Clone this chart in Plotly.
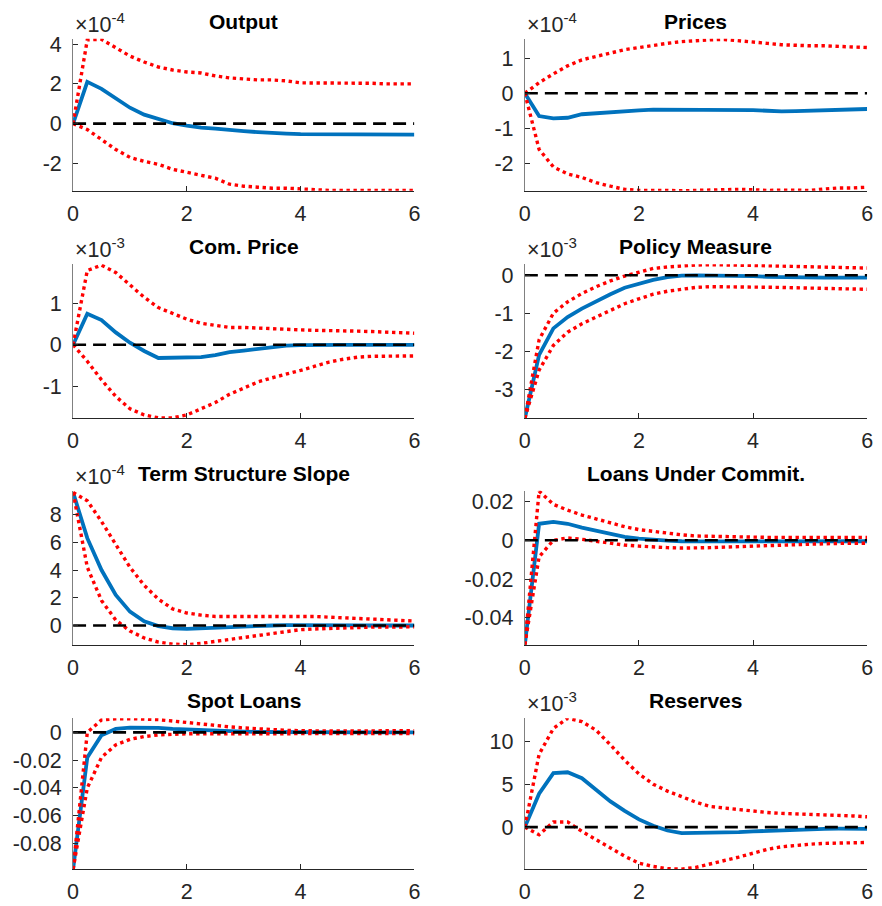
import plotly.graph_objects as go

# Impulse responses: median (solid) with lower/upper bands (dotted), horizon in years
horizon = [i * 0.25 for i in range(25)]

panel_titles = ["Output", "Prices", "Com. Price", "Policy Measure",
                "Term Structure Slope", "Loans Under Commit.", "Spot Loans", "Reserves"]

# Values are given in the units shown on each panel's axis (see panel_exponent)
output_med = [0, 2.1, 1.75, 1.25, 0.8, 0.45, 0.22, 0.02, -0.1, -0.2, -0.25, -0.33, -0.38,
              -0.43, -0.48, -0.5, -0.53, -0.53, -0.55, -0.54, -0.53, -0.52, -0.52, -0.52, -0.55]
output_lo = [0, -0.3, -0.8, -1.3, -1.7, -1.9, -2.05, -2.3, -2.45, -2.6, -2.75, -3.05, -3.15,
             -3.2, -3.25, -3.25, -3.3, -3.35, -3.36, -3.36, -3.37, -3.37, -3.37, -3.37, -3.37]
output_hi = [0, 4.22, 4.24, 3.8, 3.4, 3.1, 2.85, 2.7, 2.6, 2.55, 2.4, 2.3, 2.25,
             2.2, 2.2, 2.15, 2.05, 2.05, 2.05, 2.05, 2.05, 2.03, 2.0, 2.0, 2.0]

prices_med = [0, -0.65, -0.72, -0.7, -0.6, -0.57, -0.53, -0.5, -0.49, -0.47, -0.47, -0.47, -0.48,
              -0.48, -0.48, -0.49, -0.48, -0.5, -0.52, -0.51, -0.5, -0.49, -0.48, -0.47, -0.45]
prices_lo = [0, -1.6, -2.1, -2.3, -2.4, -2.55, -2.65, -2.74, -2.77, -2.76, -2.77, -2.78, -2.77,
             -2.75, -2.75, -2.74, -2.75, -2.77, -2.76, -2.77, -2.77, -2.73, -2.7, -2.7, -2.68]
prices_hi = [0, 0.3, 0.55, 0.78, 0.95, 1.05, 1.15, 1.24, 1.3, 1.37, 1.42, 1.47, 1.5,
             1.52, 1.53, 1.5, 1.45, 1.42, 1.38, 1.36, 1.35, 1.35, 1.33, 1.32, 1.3]

comprice_med = [0, 0.75, 0.6, 0.3, 0.05, -0.15, -0.32, -0.32, -0.32, -0.3, -0.25, -0.18, -0.14,
                -0.1, -0.05, -0.02, -0.01, 0, 0, 0, 0, 0, 0, 0, 0]
comprice_lo = [0, -0.4, -0.85, -1.25, -1.55, -1.7, -1.77, -1.77, -1.7, -1.55, -1.4, -1.2, -1.05,
               -0.9, -0.8, -0.72, -0.62, -0.52, -0.42, -0.35, -0.3, -0.28, -0.28, -0.27, -0.27]
comprice_hi = [0, 1.8, 1.93, 1.75, 1.45, 1.15, 0.9, 0.75, 0.62, 0.52, 0.46, 0.42, 0.42,
               0.4, 0.38, 0.37, 0.36, 0.35, 0.35, 0.34, 0.33, 0.32, 0.31, 0.3, 0.28]

policy_med = [-3.77, -2.1, -1.4, -1.1, -0.88, -0.68, -0.5, -0.33, -0.22, -0.12, -0.05, -0.01, 0.0,
              0.0, -0.01, -0.02, -0.02, -0.04, -0.05, -0.06, -0.06, -0.06, -0.06, -0.06, -0.06]
policy_lo = [-3.77, -2.5, -1.85, -1.5, -1.28, -1.1, -0.92, -0.75, -0.62, -0.5, -0.42, -0.36, -0.32,
             -0.3, -0.3, -0.3, -0.3, -0.31, -0.32, -0.33, -0.34, -0.35, -0.36, -0.36, -0.37]
policy_hi = [-3.77, -1.7, -1.0, -0.7, -0.48, -0.3, -0.15, -0.02, 0.08, 0.18, 0.22, 0.25, 0.27,
             0.28, 0.28, 0.27, 0.26, 0.25, 0.24, 0.23, 0.22, 0.21, 0.2, 0.2, 0.19]

slope_med = [9.6, 6.3, 4.0, 2.2, 1.0, 0.3, -0.05, -0.2, -0.25, -0.2, -0.15, -0.1, -0.05,
             -0.02, 0.0, 0.02, 0.03, 0.03, 0.03, 0.02, 0.01, 0.0, 0.0, 0.0, 0.0]
slope_lo = [9.6, 4.2, 1.8, 0.4, -0.4, -0.9, -1.2, -1.35, -1.38, -1.3, -1.15, -1.0, -0.85,
            -0.7, -0.55, -0.42, -0.3, -0.25, -0.2, -0.18, -0.15, -0.12, -0.1, -0.1, -0.1]
slope_hi = [9.6, 9.0, 7.5, 5.8, 4.2, 2.9, 1.9, 1.2, 0.9, 0.75, 0.65, 0.65, 0.65,
            0.65, 0.65, 0.68, 0.68, 0.65, 0.6, 0.55, 0.5, 0.45, 0.4, 0.35, 0.32]

commit_med = [-0.0538, 0.0085, 0.0095, 0.0085, 0.0065, 0.0048, 0.0032, 0.0018, 0.0008, 0.0002,
              -0.0002, -0.0005, -0.0006, -0.0006, -0.0006, -0.0006, -0.0006, -0.0006, -0.0006,
              -0.0006, -0.0005, -0.0005, -0.0005, -0.0005, -0.0005]
commit_lo = [-0.0538, -0.0085, 0.0, 0.0012, 0.0005, -0.0005, -0.0015, -0.0025, -0.003, -0.0035,
             -0.0038, -0.004, -0.004, -0.0038, -0.0035, -0.0032, -0.003, -0.0028, -0.0025,
             -0.0022, -0.002, -0.0018, -0.0016, -0.0015, -0.0015]
commit_hi = [-0.0538, 0.0253, 0.0185, 0.0155, 0.013, 0.011, 0.0088, 0.007, 0.0055, 0.0045,
             0.0035, 0.0028, 0.0022, 0.002, 0.0018, 0.0016, 0.0015, 0.0015, 0.0015,
             0.0015, 0.0015, 0.0015, 0.0015, 0.0015, 0.0015]

spot_med = [-0.0986, -0.018, -0.002, 0.0025, 0.0035, 0.0035, 0.0032, 0.0025, 0.002, 0.0015,
            0.001, 0.0008, 0.0005, 0.0003, 0.0002, 0.0001, 0, 0, 0, 0, 0, 0, 0, 0, 0]
spot_lo = [-0.0986, -0.04, -0.018, -0.009, -0.005, -0.003, -0.0018, -0.0012, -0.001, -0.001,
           -0.001, -0.001, -0.0011, -0.0012, -0.0012, -0.0012, -0.0012, -0.0012, -0.0011,
           -0.001, -0.001, -0.0009, -0.0009, -0.0008, -0.0008]
spot_hi = [-0.0986, 0.0, 0.009, 0.0098, 0.0099, 0.0098, 0.0092, 0.0082, 0.007, 0.0058,
           0.0048, 0.004, 0.0032, 0.0025, 0.002, 0.0015, 0.0012, 0.001, 0.001, 0.001,
           0.0011, 0.0011, 0.0012, 0.0012, 0.0012]

reserves_med = [0, 3.9, 6.3, 6.4, 5.7, 4.3, 3.0, 1.9, 0.9, 0.15, -0.4, -0.7, -0.7,
                -0.68, -0.65, -0.6, -0.5, -0.42, -0.35, -0.3, -0.25, -0.2, -0.18, -0.18, -0.2]
reserves_lo = [0, -0.9, 0.6, 0.6, -0.5, -1.5, -2.5, -3.4, -4.2, -4.6, -4.85, -4.9, -4.7,
               -4.35, -3.9, -3.5, -3.0, -2.6, -2.3, -2.1, -2.0, -1.9, -1.85, -1.8, -1.8]
reserves_hi = [0, 8.5, 11.5, 12.7, 12.3, 11.3, 9.6, 7.8, 6.2, 5.0, 4.2, 3.5, 2.9,
               2.4, 2.2, 2.0, 1.85, 1.7, 1.6, 1.55, 1.5, 1.45, 1.4, 1.3, 1.2]

panel_med = [output_med, prices_med, comprice_med, policy_med, slope_med, commit_med, spot_med, reserves_med]
panel_lo = [output_lo, prices_lo, comprice_lo, policy_lo, slope_lo, commit_lo, spot_lo, reserves_lo]
panel_hi = [output_hi, prices_hi, comprice_hi, policy_hi, slope_hi, commit_hi, spot_hi, reserves_hi]

# Axis multiplier per panel (None -> plain values)
panel_exponent = [-4, -4, -3, -3, -4, None, None, -3]

# y limits in displayed units
panel_ylim = [(-3.38, 4.27), (-2.78, 1.55), (-1.78, 1.95), (-3.77, 0.29),
              (-1.39, 9.72), (-0.0538, 0.0255), (-0.0986, 0.0102), (-4.92, 12.7)]

# y tick values/labels in displayed units
panel_yticks = [[-2, 0, 2, 4], [-2, -1, 0, 1], [-1, 0, 1], [-3, -2, -1, 0],
                [0, 2, 4, 6, 8], [-0.04, -0.02, 0, 0.02], [-0.08, -0.06, -0.04, -0.02, 0], [0, 5, 10]]
panel_yticklabels = [["-2", "0", "2", "4"], ["-2", "-1", "0", "1"], ["-1", "0", "1"],
                     ["-3", "-2", "-1", "0"], ["0", "2", "4", "6", "8"],
                     ["-0.04", "-0.02", "0", "0.02"], ["-0.08", "-0.06", "-0.04", "-0.02", "0"],
                     ["0", "5", "10"]]

x_ticks = [0, 2, 4, 6]
x_ticklabels = ["0", "2", "4", "6"]

# ---- layout geometry (pixels) ----
W, H = 882, 906
col_px = [(68, 414), (526, 873)]
row_px = [(33, 186), (260, 415), (488, 643), (717, 869)]

BLUE = "#0072BD"
RED = "#FF0000"
AX = "#262626"
FONT = "Liberation Sans, Arial, Helvetica, sans-serif"
TICK_SIZE = 21.5
TITLE_SIZE = 21

fig = go.Figure()
annotations = []

for k in range(8):
    r, c = divmod(k, 2)
    n = k + 1
    xs = "x" if n == 1 else f"x{n}"
    ys = "y" if n == 1 else f"y{n}"
    scale = 1.0 if panel_exponent[k] is None else 10.0 ** panel_exponent[k]

    med = [v * scale for v in panel_med[k]]
    lo = [v * scale for v in panel_lo[k]]
    hi = [v * scale for v in panel_hi[k]]

    fig.add_trace(go.Scatter(x=horizon, y=med, mode="lines", xaxis=xs, yaxis=ys,
                             line=dict(color=BLUE, width=3.8), showlegend=False))
    for band in (lo, hi):
        fig.add_trace(go.Scatter(x=horizon, y=band, mode="lines", xaxis=xs, yaxis=ys,
                                 line=dict(color=RED, width=3.4, dash="3.4px,3.6px"), showlegend=False))
    fig.add_trace(go.Scatter(x=[horizon[0], horizon[-1]], y=[0, 0], mode="lines", xaxis=xs, yaxis=ys,
                             line=dict(color="black", width=2.6, dash="13px,7px"), showlegend=False))

    x0, x1 = col_px[c]
    top, bot = row_px[r]
    xdom = [x0 / W, x1 / W]
    ydom = [1 - bot / H, 1 - top / H]

    common = dict(showgrid=False, zeroline=False, showline=True, linewidth=1,
                  ticks="inside", ticklen=5, tickcolor=AX, tickwidth=1, mirror=False,
                  tickfont=dict(family=FONT, size=TICK_SIZE, color=AX))
    fig.layout[f"xaxis{'' if n == 1 else n}"] = dict(
        domain=xdom, anchor=ys, range=[0, 6], tickmode="array", tickvals=x_ticks,
        ticktext=x_ticklabels, ticklabelstandoff=3, linecolor=AX, **common)
    fig.layout[f"yaxis{'' if n == 1 else n}"] = dict(
        domain=ydom, anchor=xs, range=[panel_ylim[k][0] * scale, panel_ylim[k][1] * scale],
        tickmode="array", tickvals=[t * scale for t in panel_yticks[k]],
        ticktext=panel_yticklabels[k], ticklabelstandoff=6, linecolor="#808080", **common)

    annotations.append(dict(text=f"<b>{panel_titles[k]}</b>", xref="paper", yref="paper",
                            x=(xdom[0] + xdom[1]) / 2, y=ydom[1], xanchor="center", yanchor="bottom",
                            yshift=4, showarrow=False,
                            font=dict(family=FONT, size=TITLE_SIZE, color="black")))
    if panel_exponent[k] is not None:
        annotations.append(dict(text=f"\u00d710<sup>{panel_exponent[k]}</sup>", xref="paper", yref="paper",
                                x=xdom[0], y=ydom[1], xanchor="left", yanchor="bottom", yshift=0,
                                showarrow=False, font=dict(family=FONT, size=TICK_SIZE, color=AX)))

fig.update_layout(width=W, height=H, margin=dict(l=0, r=0, t=0, b=0),
                  paper_bgcolor="white", plot_bgcolor="white", annotations=annotations)

fig.write_html("out.html")
